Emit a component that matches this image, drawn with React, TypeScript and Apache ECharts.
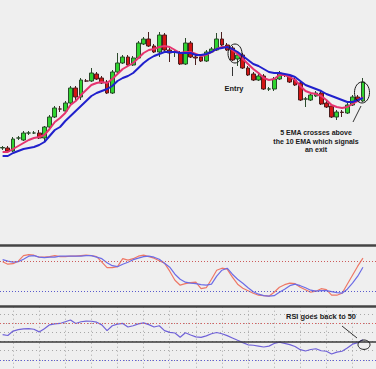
import React, { useEffect, useRef } from 'react';
import * as echarts from 'echarts';

// 70 trading sessions (+2 empty slots at the right edge)
const categories = Array.from({ length: 72 }, (_, i) => `S${i + 1}`);

// [open, close, low, high]
const candles: number[][] = [
  [52, 52.5, 50, 54], [52, 49, 48, 54], [49, 61, 48, 63], [62, 62, 60, 64], [60, 67, 59, 69],
  [67, 67, 65, 69], [67, 67, 66, 69], [67, 62, 61, 70], [62, 73, 58, 74], [73, 83, 72, 85],
  [83, 92, 82, 94], [91, 91, 88, 94], [89, 97, 88, 99], [97, 112, 96, 114], [112, 103, 100, 114],
  [103, 120, 100, 122], [119, 119, 118, 121], [119, 127, 118, 132], [126, 121, 120, 128], [122, 117, 116, 124],
  [118, 107, 106, 120], [107, 128, 106, 130], [128, 137, 127, 147], [137, 143, 136, 145], [143, 135, 134, 145],
  [135, 142, 134, 144], [142, 157, 141, 159], [156, 161, 155, 163], [161, 154, 153, 168], [154, 148, 147, 156],
  [148, 165, 143, 168], [165, 150, 149, 167], [150, 147, 138, 152], [148, 148, 143, 150], [147, 136, 135, 149],
  [136, 157, 135, 162], [157, 143, 142, 159], [143, 142, 135, 145], [143, 139, 138, 145], [139, 148, 138, 150],
  [148, 151, 147, 153], [150, 161, 149, 167], [161, 155, 154, 168], [155, 150, 149, 157], [152, 140, 139, 154],
  [141, 145, 134, 147], [145, 132, 131, 147], [132, 125, 124, 134], [126, 120, 119, 128], [120, 124, 119, 126],
  [124, 111, 110, 126], [111, 111, 109, 113], [111, 121, 109, 123], [121, 127, 120, 129], [125, 125, 123, 127],
  [124, 118, 117, 126], [120, 115, 114, 122], [117, 100, 99, 119], [101, 101, 93, 103], [100, 105, 99, 107],
  [104, 107, 103, 109], [107, 96, 95, 109], [97, 93, 92, 99], [94, 83, 82, 96], [83, 88, 80, 90],
  [88, 87.5, 83, 90], [87, 95, 86, 97], [95, 103, 94, 105], [103, 99, 98, 105], [99, 118, 98, 122],
];

const ema5 = [
  48, 48, 51, 54, 57, 60, 62, 63, 65, 71, 78, 82, 87, 95, 99, 105, 110, 115, 117, 118,
  117, 121, 126, 131, 134, 137, 142, 147, 150, 151, 153, 154, 153, 150, 147, 148, 148, 146, 144, 145,
  148, 151, 153, 153, 150, 146, 141, 136, 131, 127, 122, 120, 121, 125, 125, 123, 120, 114, 109, 107,
  106, 104, 100, 95, 93, 92, 93, 96, 99, 103,
];

const ema10 = [
  44, 44, 47, 49, 51, 52, 53, 55, 58, 64, 70, 73, 79, 84, 89, 94, 99, 104, 107, 109,
  111, 114, 119, 122, 124, 127, 132, 137, 141, 144, 146, 148, 148, 148, 147, 147, 147, 145, 145, 146,
  148, 151, 152, 153, 151, 148, 144, 140, 136, 134, 131, 128, 127, 127, 126, 125, 123, 119, 115, 113,
  111, 109, 106, 104, 102, 100, 98, 98, 100, 102,
];

const stochK = [
  80, 75, 76, 81, 92, 94, 93, 89, 89, 90, 92, 90, 90, 91, 91, 92, 93, 92, 90, 79,
  68, 68, 70, 86, 83, 86, 91, 93, 90, 87, 82, 77, 61, 43, 33, 36, 38, 39, 26, 28,
  45, 63, 67, 65, 49, 35, 27, 22, 17, 13, 12, 11, 19, 29, 34, 37, 36, 29, 24, 19,
  21, 26, 24, 13, 13, 17, 35, 53, 71, 87,
];

const stochD = [
  84, 81, 79, 80, 85, 91, 92, 89, 88, 89, 89, 91, 91, 91, 91, 91, 92, 92, 89, 86,
  78, 72, 70, 75, 79, 84, 87, 90, 91, 89, 85, 77, 69, 55, 45, 39, 37, 36, 34, 33,
  35, 51, 63, 67, 55, 45, 37, 28, 20, 15, 12, 11, 12, 19, 25, 32, 35, 32, 28, 23,
  21, 22, 22, 20, 18, 17, 25, 37, 51, 69,
];

const rsi = [
  57.5, 56.6, 61.4, 62.9, 63.8, 64.1, 63.4, 60.5, 64, 68.2, 69.2, 69.7, 71.6, 73.5, 69.7, 71.6, 72.3, 72.1, 71.1, 68.2,
  61.9, 67.2, 69, 69.7, 65.8, 67.2, 69.2, 70.3, 68.4, 65.8, 67.2, 61.9, 60, 59.3, 54.6, 59.5, 57.1, 55.1, 54.5, 56.1,
  58.5, 59.8, 58.5, 56.4, 53.9, 51.3, 48.8, 46.4, 45.9, 45, 44, 45, 47.9, 49.3, 47.9, 46.6, 44.5, 41.1, 39.6, 41.3,
  42.1, 39.9, 39.4, 36.4, 38.4, 39.4, 43, 47.1, 48.8, 52,
];

const stochLevels = { high: 80, low: 20 };
const rsiLevels = { high: 70, mid: 50, low: 30 };

const annotations = {
  entry: 'Entry',
  exit: ['5 EMA crosses above', 'the 10 EMA which signals', 'an exit'],
  rsi: 'RSI goes back to 50',
};

const BAND = 5.26;
const GL = 1 - BAND / 2;
const GW = BAND * 72;

const dotted = (color: string) => ({ color, width: 1, type: [1, 2] as number[] });
const FONT = { fontSize: 7.4, fontWeight: 'bold' as const, fontFamily: '"Liberation Sans", Arial, sans-serif' };

export default function App() {
  const ref = useRef<HTMLDivElement>(null);

  useEffect(() => {
    document.body.style.margin = '0';
    if (!ref.current) return;
    const chart = echarts.init(ref.current, null, { renderer: 'svg' });
    const sepAxis = {
      type: 'category',
      data: categories,
      position: 'top',
      axisLine: { show: true, onZero: false, lineStyle: { color: '#444', width: 2.5 } },
      axisTick: { show: false },
      axisLabel: { show: false },
    };
    const exitLines = annotations.exit.map((t, i) => ({
      type: 'text', x: 316, y: 132.4 + i * 8.6, z: 10,
      style: { text: t, ...FONT, fontSize: 7, fill: '#1a1a1a', align: 'center', verticalAlign: 'middle' },
    }));
    chart.setOption({
      animation: false,
      backgroundColor: '#efefef',
      grid: [
        { left: GL, width: GW, top: 0, height: 240 },
        { left: GL, width: GW, top: 245.7, height: 56 },
        { left: GL, width: GW, top: 306.7, height: 70.4 },
      ],
      xAxis: [
        { type: 'category', gridIndex: 0, data: categories, show: false },
        { ...sepAxis, gridIndex: 1, splitLine: { show: false } },
        {
          ...sepAxis,
          gridIndex: 2,
          splitLine: {
            show: true,
            alignWithLabel: true,
            interval: (i: number) => i % 5 === 2,
            lineStyle: { color: '#a8a8a8', width: 1, type: [1, 3] },
          },
        },
      ],
      yAxis: [
        { type: 'value', gridIndex: 0, min: -40, max: 200, show: false },
        { type: 'value', gridIndex: 1, min: 0, max: 112, show: false },
        {
          type: 'value', gridIndex: 2, min: 20, max: 88, interval: 10,
          axisLine: { show: false }, axisTick: { show: false }, axisLabel: { show: false },
          splitLine: { show: true, lineStyle: { color: '#a8a8a8', width: 1, type: [1, 3] } },
        },
      ],
      series: [
        {
          type: 'candlestick', xAxisIndex: 0, yAxisIndex: 0, data: candles, barWidth: 4.2,
          itemStyle: { color: '#2fd42f', color0: '#d41414', borderColor: '#2b4a2b', borderColor0: '#4a1e1e', borderWidth: 1 },
        },
        { type: 'line', xAxisIndex: 0, yAxisIndex: 0, data: ema5, showSymbol: false, lineStyle: { color: '#e6336f', width: 2 }, z: 3 },
        { type: 'line', xAxisIndex: 0, yAxisIndex: 0, data: ema10, showSymbol: false, lineStyle: { color: '#2020cc', width: 2 }, z: 3 },
        {
          type: 'line', xAxisIndex: 1, yAxisIndex: 1, data: stochK, showSymbol: false,
          lineStyle: { color: '#ee7766', width: 1.2 },
          markLine: {
            silent: true, symbol: ['none', 'none'], label: { show: false },
            data: [
              { yAxis: stochLevels.high, lineStyle: dotted('#cc5a5a') },
              { yAxis: stochLevels.low, lineStyle: dotted('#5a5acc') },
            ],
          },
        },
        { type: 'line', xAxisIndex: 1, yAxisIndex: 1, data: stochD, showSymbol: false, lineStyle: { color: '#6c6ce6', width: 1.2 } },
        {
          type: 'line', xAxisIndex: 2, yAxisIndex: 2, data: rsi, showSymbol: false,
          lineStyle: { color: '#7062d8', width: 1.2 }, z: 4,
          markLine: {
            silent: true, symbol: ['none', 'none'], label: { show: false },
            data: [
              { yAxis: rsiLevels.high, lineStyle: dotted('#d86060') },
              { yAxis: rsiLevels.mid, lineStyle: { color: '#3a3a3a', width: 1.6, type: 'solid' } },
              { yAxis: rsiLevels.low, lineStyle: dotted('#6060d8') },
            ],
          },
        },
      ],
      graphic: [
        { type: 'ellipse', shape: { cx: 235, cy: 53.5, rx: 7, ry: 9.5 }, style: { fill: 'none', stroke: '#1a1a1a', lineWidth: 1 }, z: 10 },
        { type: 'ellipse', shape: { cx: 362, cy: 92.5, rx: 7.5, ry: 10.5 }, style: { fill: 'none', stroke: '#1a1a1a', lineWidth: 1 }, z: 10 },
        { type: 'ellipse', shape: { cx: 364, cy: 344.7, rx: 6, ry: 4.7 }, style: { fill: 'none', stroke: '#1a1a1a', lineWidth: 1 }, z: 10 },
        { type: 'line', shape: { x1: 232.5, y1: 67, x2: 232.5, y2: 76 }, style: { stroke: '#333', lineWidth: 1 }, z: 10 },
        { type: 'line', shape: { x1: 353, y1: 122, x2: 361, y2: 106 }, style: { stroke: '#333', lineWidth: 1 }, z: 10 },
        { type: 'line', shape: { x1: 342, y1: 326, x2: 357, y2: 338 }, style: { stroke: '#333', lineWidth: 1 }, z: 10 },
        { type: 'text', x: 234, y: 88, style: { text: annotations.entry, ...FONT, fill: '#1a1a1a', align: 'center', verticalAlign: 'middle' }, z: 10 },
        ...exitLines,
        { type: 'text', x: 321, y: 316, style: { text: annotations.rsi, ...FONT, fill: '#1a1a1a', align: 'center', verticalAlign: 'middle' }, z: 10 },
      ],
    });
    return () => chart.dispose();
  }, []);

  return <div ref={ref} style={{ width: 376, height: 369 }} />;
}
